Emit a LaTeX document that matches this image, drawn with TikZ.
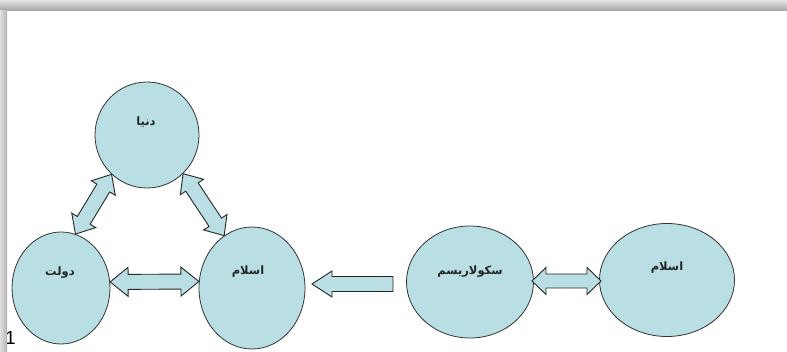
\documentclass[tikz,border=0pt]{standalone}
\usepackage{fontspec}
\usetikzlibrary{shapes.geometric,calc}
\TeXXeTstate=1
\newfontfamily\fafont[Script=Arabic]{DejaVu Sans}
\setmainfont{Liberation Sans}
\definecolor{cfill}{HTML}{B9DFE4}
\definecolor{cline}{HTML}{333333}
\tikzset{
  bubble/.style={ellipse, draw=cline, fill=cfill, line width=0.8pt, inner sep=0pt},
  lbl/.style={font=\fafont\bfseries\fontsize{11.5}{13}\selectfont, inner sep=0pt, text=black!85},
  fat/.style={draw=black!85, fill=cfill, line width=0.9pt, line join=miter},
}
\newcommand\dblarrow[5]{%
  \coordinate (p1) at ($(#1)!#3!(#2)$);
  \coordinate (p2) at ($(#2)!#3!(#1)$);
  \draw[fat] (#1) -- ($(p1)!#4!90:(#2)$) -- ($(p1)!#5!90:(#2)$) -- ($(p2)!#5!-90:(#1)$) -- ($(p2)!#4!-90:(#1)$) -- (#2) -- ($(p2)!#4!90:(#1)$) -- ($(p2)!#5!90:(#1)$) -- ($(p1)!#5!-90:(#2)$) -- ($(p1)!#4!-90:(#2)$) -- cycle;
}
\newcommand\sglarrow[5]{% tip, tail, headlen, headhalf, bodyhalf
  \coordinate (p1) at ($(#1)!#3!(#2)$);
  \draw[fat] (#1) -- ($(p1)!#4!90:(#2)$) -- ($(p1)!#5!90:(#2)$) -- ($(#2)!#5!-90:(#1)$) -- ($(#2)!#5!90:(#1)$) -- ($(p1)!#5!-90:(#2)$) -- ($(p1)!#4!-90:(#2)$) -- cycle;
}
\begin{document}
\begin{tikzpicture}[x=1pt,y=-1pt]
\useasboundingbox (0,0) rectangle (787,352);
\fill[white] (0,0) rectangle (787,352);
% stray digit at bottom left
\node[font=\fontsize{19}{22}\selectfont, inner sep=0pt, anchor=base] (digit) at (10.5,345) {1};
% shadow
\shade[top color=black!10, bottom color=black!36] (0,0) rectangle (787,11);
\shade[left color=black!12, right color=black!30] (0,11) rectangle (7,352);
% bubbles
\node[bubble, minimum width=104pt, minimum height=106pt] (donya) at (147,135) {};
\node[bubble, minimum width=98pt, minimum height=112pt] (dawlat) at (61,288) {};
\node[bubble, minimum width=106pt, minimum height=122pt] (islamA) at (252,288) {};
\node[bubble, minimum width=127pt, minimum height=112pt] (secular) at (470,282) {};
\node[bubble, minimum width=135pt, minimum height=113pt] (islamB) at (667,280) {};
% labels
\node[lbl] (tdonya) at (146,122) {\beginR دنیا\endR};
\node[lbl] (tdawlat) at (60,273) {\beginR دولت\endR};
\node[lbl] (tislamA) at (248,272) {\beginR اسلام\endR};
\node[lbl] (tsecular) at (470,272) {\beginR سکولاریسم\endR};
\node[lbl] (tislamB) at (667,268) {\beginR اسلام\endR};
% arrow end points
\coordinate (a1s) at (dawlat.7);
\coordinate (a1e) at (islamA.173.5);
\coordinate (a2tip) at (312,284);
\coordinate (a2tail) at (393,284);
\coordinate (a3s) at (532,281);
\coordinate (a3e) at (601,281);
\coordinate (a4s) at (donya.228);
\coordinate (a4e) at (dawlat.75);
\coordinate (a5s) at (donya.313);
\coordinate (a5e) at (islamA.118);
% arrows
\dblarrow{a1s}{a1e}{18pt}{14.5pt}{7.5pt}
\sglarrow{a2tip}{a2tail}{20pt}{13pt}{7.5pt}
\dblarrow{a3s}{a3e}{14pt}{13.5pt}{7pt}
\dblarrow{a4s}{a4e}{16pt}{14pt}{7.5pt}
\dblarrow{a5s}{a5e}{16pt}{14pt}{7.5pt}
\end{tikzpicture}
\end{document}
